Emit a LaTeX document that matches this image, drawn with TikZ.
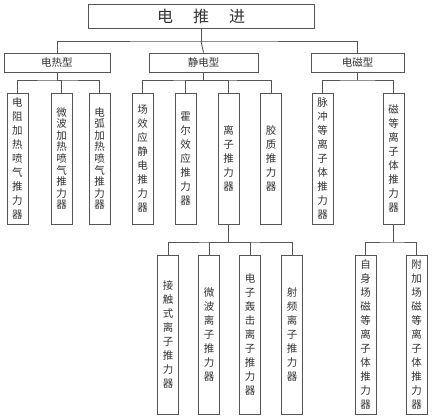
\documentclass[tikz,border=0pt]{standalone}
\usepackage{fontspec}
\newfontfamily\cjk{Noto Sans CJK SC}
\definecolor{ln}{HTML}{555555}
\definecolor{tx}{HTML}{333333}
\tikzset{
  bx/.style={draw=ln, line width=0.9pt, inner sep=0pt, align=center, text=tx,
    font={\cjk\fontsize{10.5}{14}\selectfont}},
  tall/.style={bx, minimum width=21pt, minimum height=131pt},
  taller/.style={bx, minimum width=21pt, minimum height=159pt},
  wire/.style={draw=ln, line width=0.9pt}
}
\begin{document}
\begin{tikzpicture}[x=1pt,y=-1pt]
\useasboundingbox[fill=white] (0,0) rectangle (437,420);
% root
\node[bx, minimum width=226pt, minimum height=24pt, font={\cjk\fontsize{16}{18}\selectfont}] (root) at (201,16) {电\hspace{20pt}推\hspace{20pt}进};
% level 2
\node[bx, minimum width=106pt, minimum height=19pt] (ra) at (57,62.5) {电热型};
\node[bx, minimum width=109pt, minimum height=19pt] (rb) at (203.5,62.5) {静电型};
\node[bx, minimum width=93pt, minimum height=19pt] (rc) at (357.5,62.5) {电磁型};
% level 3
\node[tall] (a1) at (17.5,158.5) {电\\阻\\加\\热\\喷\\气\\推\\力\\器};
\node[tall, font={\cjk\fontsize{10.5}{11.6}\selectfont}] (a2) at (61.5,158.5) {微\\波\\加\\热\\喷\\气\\推\\力\\器};
\node[tall, font={\cjk\fontsize{10.5}{11.6}\selectfont}] (a3) at (99.5,158.5) {电\\弧\\加\\热\\喷\\气\\推\\力\\器};
\node[tall] (b1) at (142.5,158.5) {场\\效\\应\\静\\电\\推\\力\\器};
\node[tall] (b2) at (185.5,158.5) {霍\\尔\\效\\应\\推\\力\\器};
\node[tall] (b3) at (228.5,158.5) {离\\子\\推\\力\\器};
\node[tall] (b4) at (271,158.5) {胶\\质\\推\\力\\器};
\node[tall] (c1) at (322.5,158.5) {脉\\冲\\等\\离\\子\\体\\推\\力\\器};
\node[tall] (c2) at (393.5,158.5) {磁\\等\\离\\子\\体\\推\\力\\器};
% level 4
\node[taller] (d1) at (168,334.5) {接\\触\\式\\离\\子\\推\\力\\器};
\node[taller] (d2) at (209,334.5) {微\\波\\离\\子\\推\\力\\器};
\node[taller] (d3) at (250,334.5) {电\\子\\轰\\击\\离\\子\\推\\力\\器};
\node[taller] (d4) at (292,334.5) {射\\频\\离\\子\\推\\力\\器};
\node[taller] (e1) at (365.5,334.5) {自\\身\\场\\磁\\等\\离\\子\\体\\推\\力\\器};
\node[taller] (e2) at (416.5,334.5) {附\\加\\场\\磁\\等\\离\\子\\体\\推\\力\\器};
% junctions
\coordinate (j0) at (201,41);
\coordinate (ja) at (57,80);
\coordinate (jb) at (203.5,80);
\coordinate (jc) at (357.5,80);
\coordinate (jd) at (228.5,242);
\coordinate (je) at (393.5,242);
% connectors
\draw[wire] (root.south) -- (j0);
\draw[wire] (ra.north) |- (j0) -| (rc.north);
\draw[wire] (j0) -- (rb.north);
\draw[wire] (ra.south) -- (ja);
\draw[wire] (a1.north) |- (ja) -| (a3.north);
\draw[wire] (ja) -| (a2.north);
\draw[wire] (rb.south) -- (jb);
\draw[wire] (b1.north) |- (jb) -| (b4.north);
\draw[wire] (jb) -| (b2.north);
\draw[wire] (jb) -| (b3.north);
\draw[wire] (rc.south) -- (jc);
\draw[wire] (c1.north) |- (jc) -| (c2.north);
\draw[wire] (b3.south) -- (jd);
\draw[wire] (d1.north) |- (jd) -| (d4.north);
\draw[wire] (jd) -| (d2.north);
\draw[wire] (jd) -| (d3.north);
\draw[wire] (c2.south) -- (je);
\draw[wire] (e1.north) |- (je) -| (e2.north);
\end{tikzpicture}
\end{document}
